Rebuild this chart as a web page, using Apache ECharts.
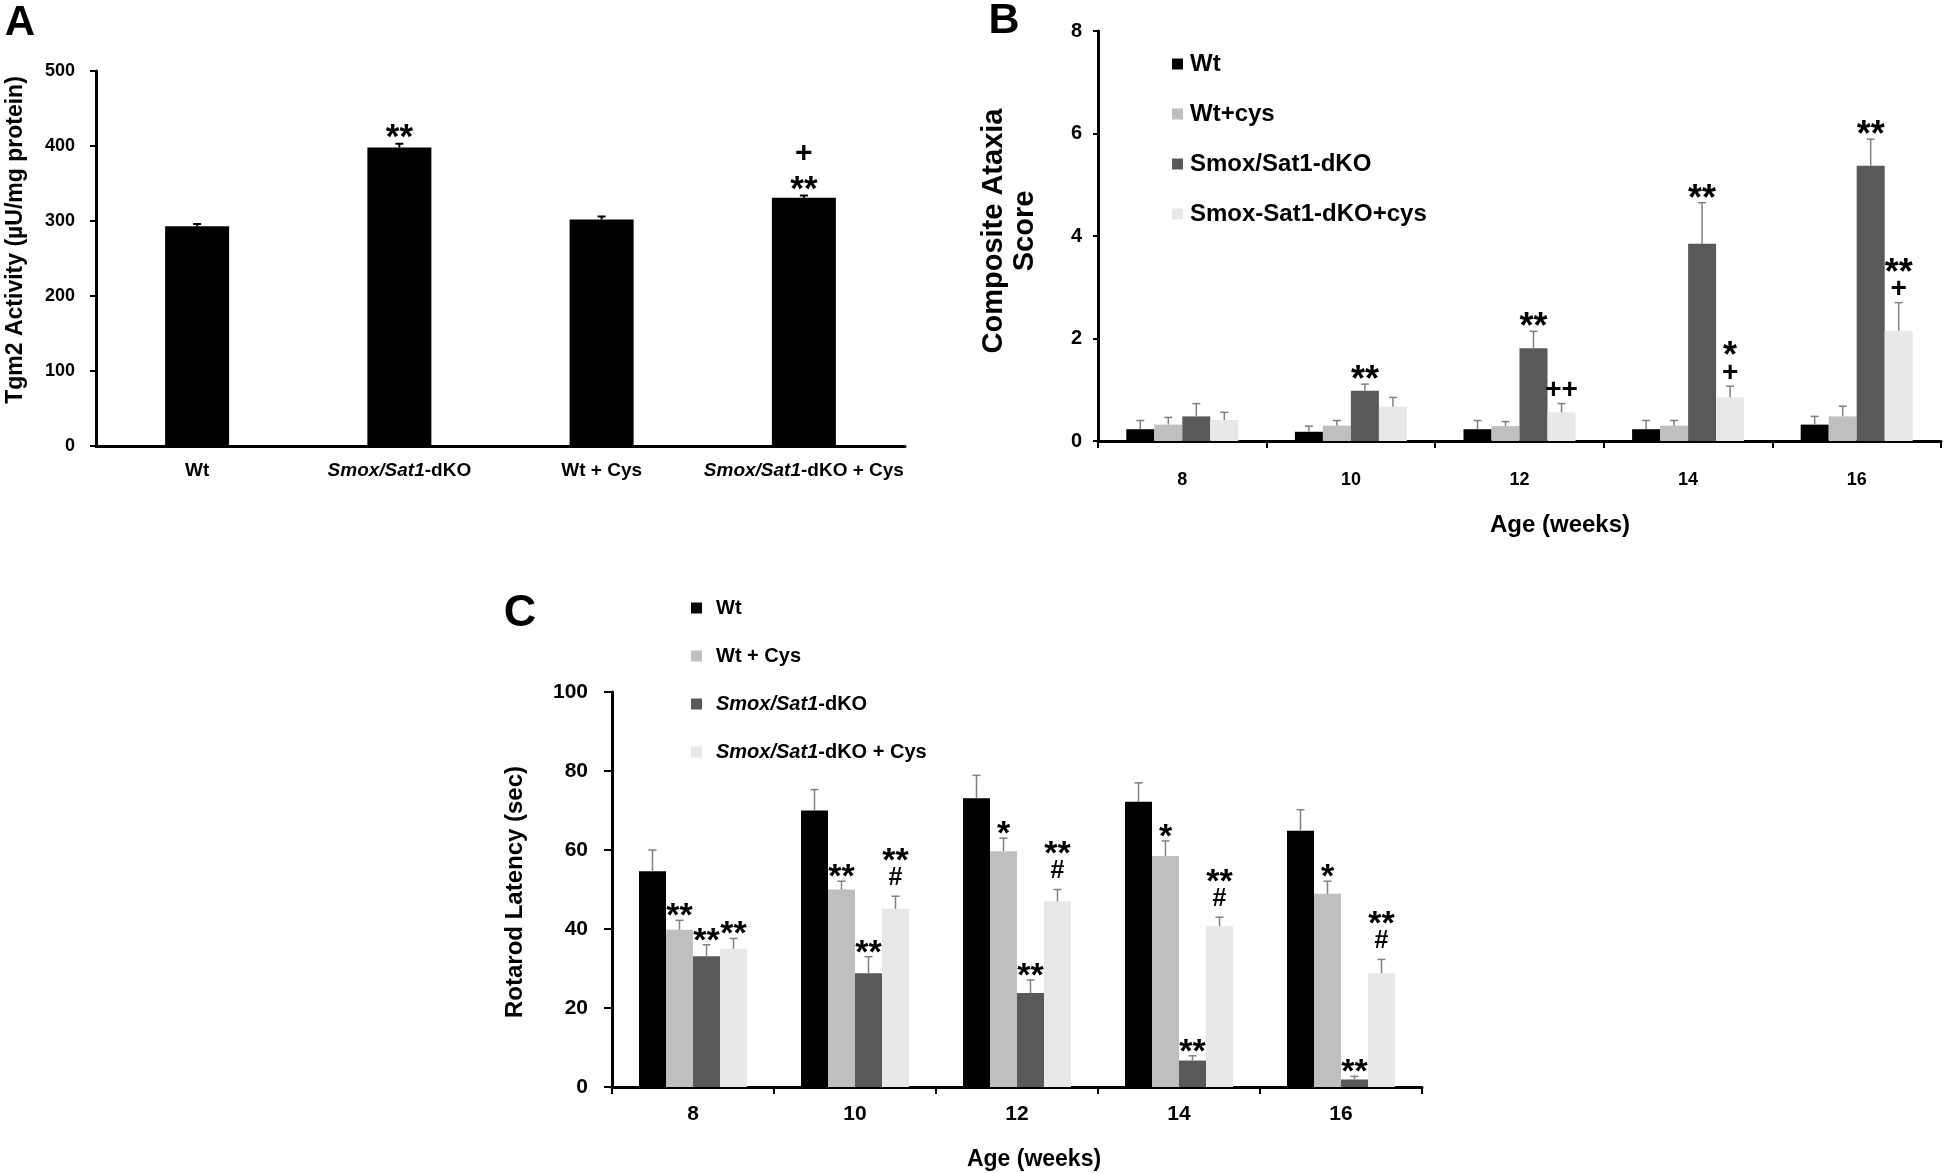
<!DOCTYPE html>
<html>
<head>
<meta charset="utf-8">
<script src="https://cdn.jsdelivr.net/npm/echarts@6/dist/echarts.min.js"></script>
<style>html,body{margin:0;padding:0;background:#fff}#c{width:1946px;height:1173px}</style>
</head>
<body>
<div id="c"></div>
<script>
// ---------- Panel A: Tgm2 activity ----------
const groupsA = ['Wt', 'Smox/Sat1-dKO', 'Wt + Cys', 'Smox/Sat1-dKO + Cys'];
const tgm2 = [293, 398, 302, 331];
const tgm2Err = [3, 5, 4, 3];
const tgm2Sig = ['', '**', '', '+\n**'];
const ticksA = [0, 100, 200, 300, 400, 500];

// ---------- Panel B: Composite ataxia score ----------
const ages = ['8', '10', '12', '14', '16'];
const ataxWt = [0.23, 0.18, 0.23, 0.23, 0.32];
const ataxWtErr = [0.17, 0.11, 0.17, 0.17, 0.16];
const ataxWtCys = [0.32, 0.30, 0.29, 0.30, 0.48];
const ataxWtCysErr = [0.14, 0.10, 0.09, 0.10, 0.20];
const ataxKO = [0.48, 0.98, 1.81, 3.85, 5.37];
const ataxKOErr = [0.25, 0.13, 0.33, 0.80, 0.52];
const ataxKOCys = [0.41, 0.67, 0.56, 0.85, 2.15];
const ataxKOCysErr = [0.15, 0.18, 0.17, 0.22, 0.55];
const ataxWtSig = ['', '', '', '', ''];
const ataxWtCysSig = ['', '', '', '', ''];
const ataxKOSig = ['', '**', '**', '**', '**'];
const ataxKOCysSig = ['', '', '++', '*\n+', '**\n+'];
const namesB = ['Wt', 'Wt+cys', 'Smox/Sat1-dKO', 'Smox-Sat1-dKO+cys'];

// ---------- Panel C: Rotarod latency ----------
const rotWt = [54.6, 70.0, 73.1, 72.2, 64.9];
const rotWtErr = [5.4, 5.3, 5.8, 4.8, 5.3];
const rotWtCys = [39.8, 50.0, 59.7, 58.5, 48.9];
const rotWtCysErr = [2.4, 2.1, 3.3, 3.8, 3.2];
const rotKO = [33.1, 28.8, 23.8, 6.7, 1.9];
const rotKOErr = [2.9, 4.2, 3.3, 1.2, 0.8];
const rotKOCys = [35.0, 45.1, 47.0, 40.7, 28.8];
const rotKOCysErr = [2.6, 3.2, 3.0, 2.3, 3.5];
const rotWtSig = ['', '', '', '', ''];
const rotWtCysSig = ['**', '**', '*', '*', '*'];
const rotKOSig = ['**', '**', '**', '**', '**'];
const rotKOCysSig = ['**', '**\n#', '**\n#', '**\n#', '**\n#'];
const namesC = ['Wt', 'Wt + Cys', 'Smox/Sat1-dKO', 'Smox/Sat1-dKO + Cys'];

const colors = ['#000000', '#bfbfbf', '#595959', '#e8e8e8'];
const FONT = 'Liberation Sans, Arial, Helvetica, sans-serif';

function italicize(s) { return s.replace('Smox/Sat1', '{i|Smox/Sat1}'); }

// error bars + significance marks drawn through the axes' coordinate system
function errSeries(xi, vals, errs, sigs, idx, nBars, bw, cfg) {
  return {
    type: 'custom', xAxisIndex: xi, yAxisIndex: xi, silent: true, z: 5,
    data: vals.map((v, i) => [i, v, errs[i]]),
    encode: { x: 0, y: 1 },
    renderItem: function (params, api) {
      const i = api.value(0), v = api.value(1), e = api.value(2);
      const base = api.coord([i, v]);
      const top = api.coord([i, v + e]);
      const x = base[0] + (idx - (nBars - 1) / 2) * bw;
      const ch = [];
      ch.push({ type: 'line', shape: { x1: x, y1: base[1], x2: x, y2: top[1] },
        style: { stroke: cfg.errColor, lineWidth: cfg.errWidth } });
      ch.push({ type: 'line', shape: { x1: x - cfg.cap, y1: top[1], x2: x + cfg.cap, y2: top[1] },
        style: { stroke: cfg.errColor, lineWidth: cfg.errWidth } });
      const sig = sigs[params.dataIndex];
      if (sig) {
        const lines = sig.split('\n').reverse();
        let vis = top[1];
        lines.forEach((ln, k) => {
          const star = ln.indexOf('*') >= 0;
          if (k === 0) vis -= star ? cfg.starGap : cfg.otherGap;
          else vis -= cfg.step;
          const size = star ? cfg.starSize : cfg.otherSize;
          const y = vis + (star ? 0.25 * size : 0);
          ch.push({ type: 'text', x: x, y: y,
            style: { text: ln, fontSize: size,
              fontWeight: 'bold', fontFamily: FONT, fill: '#000',
              align: 'center', verticalAlign: 'middle' } });
        });
      }
      return { type: 'group', children: ch };
    }
  };
}

const cfgA = { errColor: '#000', errWidth: 2, cap: 4, starGap: 14, otherGap: 14, step: 28,
  starSize: 35, otherSize: 30 };
const cfgB = { errColor: '#808080', errWidth: 1.5, cap: 4, starGap: 12, otherGap: 13, step: 25,
  starSize: 36, otherSize: 28 };
const cfgC = { errColor: '#808080', errWidth: 1.5, cap: 4, starGap: 12, otherGap: 18, step: 25,
  starSize: 34, otherSize: 25 };

const bwA = 64, bwB = 28, bwC = 27;

function barSeries(xi, name, data, color, bw) {
  return { type: 'bar', name: name, xAxisIndex: xi, yAxisIndex: xi, data: data,
    barWidth: bw, barGap: '0%', itemStyle: { color: color }, silent: true };
}

const series = [];
// A
series.push(barSeries(0, 'Tgm2', tgm2, '#000', bwA));
series.push(errSeries(0, tgm2, tgm2Err, tgm2Sig, 0, 1, bwA, cfgA));
// B
const bVals = [ataxWt, ataxWtCys, ataxKO, ataxKOCys];
const bErrs = [ataxWtErr, ataxWtCysErr, ataxKOErr, ataxKOCysErr];
const bSigs = [ataxWtSig, ataxWtCysSig, ataxKOSig, ataxKOCysSig];
bVals.forEach((d, k) => series.push(barSeries(1, namesB[k], d, colors[k], bwB)));
bVals.forEach((d, k) => series.push(errSeries(1, d, bErrs[k], bSigs[k], k, 4, bwB, cfgB)));
// C
const cVals = [rotWt, rotWtCys, rotKO, rotKOCys];
const cErrs = [rotWtErr, rotWtCysErr, rotKOErr, rotKOCysErr];
const cSigs = [rotWtSig, rotWtCysSig, rotKOSig, rotKOCysSig];
cVals.forEach((d, k) => series.push(barSeries(2, namesC[k], d, colors[k], bwC)));
cVals.forEach((d, k) => series.push(errSeries(2, d, cErrs[k], cSigs[k], k, 4, bwC, cfgC)));

function xAxisCfg(gi, cats, o) {
  return {
    type: 'category', gridIndex: gi, data: cats, boundaryGap: true,
    axisLine: { show: true, lineStyle: { color: '#000', width: o.lw } },
    axisTick: { show: o.tick, length: 7, interval: 0, lineStyle: { color: '#000', width: 2 } },
    axisLabel: { interval: 0, color: '#000', fontSize: o.fs, fontWeight: 'bold', fontFamily: FONT,
      margin: o.margin, formatter: o.fmt || undefined,
      rich: { i: { fontStyle: 'italic', fontWeight: 'bold', fontSize: o.fs, fontFamily: FONT, color: '#000' } } },
    splitLine: { show: false }
  };
}
function yAxisCfg(gi, max, interval, o) {
  return {
    type: 'value', gridIndex: gi, min: 0, max: max, interval: interval,
    axisLine: { show: true, lineStyle: { color: '#000', width: o.lw } },
    axisTick: { show: true, length: o.tl, lineStyle: { color: '#000', width: 2 } },
    axisLabel: { color: '#000', fontSize: o.fs, fontWeight: 'bold', fontFamily: FONT, margin: o.margin },
    splitLine: { show: false }
  };
}

const option = {
  animation: false,
  backgroundColor: '#fff',
  grid: [
    { left: 96, top: 71, width: 809, height: 375, containLabel: false, outerBoundsMode: 'none' },
    { left: 1098, top: 31, width: 843, height: 410, containLabel: false, outerBoundsMode: 'none' },
    { left: 612, top: 692, width: 810, height: 395, containLabel: false, outerBoundsMode: 'none' }
  ],
  xAxis: [
    xAxisCfg(0, groupsA, { lw: 3, tick: false, fs: 19, margin: 15, fmt: italicize }),
    xAxisCfg(1, ages, { lw: 3, tick: true, fs: 18, margin: 30 }),
    xAxisCfg(2, ages, { lw: 3, tick: true, fs: 21, margin: 17 })
  ],
  yAxis: [
    yAxisCfg(0, ticksA[ticksA.length - 1], ticksA[1] - ticksA[0], { lw: 3, tl: 6, fs: 18, margin: 21 }),
    yAxisCfg(1, 8, 2, { lw: 3, tl: 5, fs: 20, margin: 16 }),
    yAxisCfg(2, 100, 20, { lw: 3, tl: 8, fs: 21, margin: 24 })
  ],
  legend: [
    { orient: 'vertical', left: 1172, top: 52, padding: 0, itemWidth: 11, itemHeight: 11, itemGap: 26,
      icon: 'rect', selectedMode: false, data: namesB,
      textStyle: { color: '#000', fontSize: 24, fontWeight: 'bold', fontFamily: FONT, lineHeight: 24, padding: [0, 0, 0, 2] } },
    { orient: 'vertical', left: 691, top: 598, padding: 0, itemWidth: 11, itemHeight: 11, itemGap: 28,
      icon: 'rect', selectedMode: false, data: namesC, formatter: italicize,
      textStyle: { color: '#000', fontSize: 20, fontWeight: 'bold', fontFamily: FONT, lineHeight: 20, padding: [0, 0, 0, 9],
        rich: { i: { fontStyle: 'italic', fontWeight: 'bold', fontSize: 20, fontFamily: FONT, color: '#000', lineHeight: 20 } } } }
  ],
  graphic: [
    { type: 'text', x: 20, y: 23, style: { text: 'A', fontSize: 42, fontWeight: 'bold', fontFamily: FONT, fill: '#000', align: 'center', verticalAlign: 'middle' } },
    { type: 'text', x: 1004, y: 21, style: { text: 'B', fontSize: 43, fontWeight: 'bold', fontFamily: FONT, fill: '#000', align: 'center', verticalAlign: 'middle' } },
    { type: 'text', x: 520, y: 614, style: { text: 'C', fontSize: 45, fontWeight: 'bold', fontFamily: FONT, fill: '#000', align: 'center', verticalAlign: 'middle' } },
    { type: 'text', x: 16, y: 240, rotation: Math.PI / 2, style: { text: 'Tgm2 Activity (\u00b5U/mg protein)', fontSize: 23, fontWeight: 'bold', fontFamily: FONT, fill: '#000', align: 'center', verticalAlign: 'middle' } },
    { type: 'text', x: 1009, y: 231, rotation: Math.PI / 2, style: { text: 'Composite Ataxia\nScore', fontSize: 29, lineHeight: 31, fontWeight: 'bold', fontFamily: FONT, fill: '#000', align: 'center', verticalAlign: 'middle' } },
    { type: 'text', x: 515, y: 892, rotation: Math.PI / 2, style: { text: 'Rotarod Latency (sec)', fontSize: 24, fontWeight: 'bold', fontFamily: FONT, fill: '#000', align: 'center', verticalAlign: 'middle' } },
    { type: 'text', x: 1560, y: 525, style: { text: 'Age (weeks)', fontSize: 24, fontWeight: 'bold', fontFamily: FONT, fill: '#000', align: 'center', verticalAlign: 'middle' } },
    { type: 'text', x: 1034, y: 1160, style: { text: 'Age (weeks)', fontSize: 23, fontWeight: 'bold', fontFamily: FONT, fill: '#000', align: 'center', verticalAlign: 'middle' } }
  ],
  series: series
};

const chart = echarts.init(document.getElementById('c'), null, { renderer: 'canvas' });
chart.setOption(option);
</script>
</body>
</html>
